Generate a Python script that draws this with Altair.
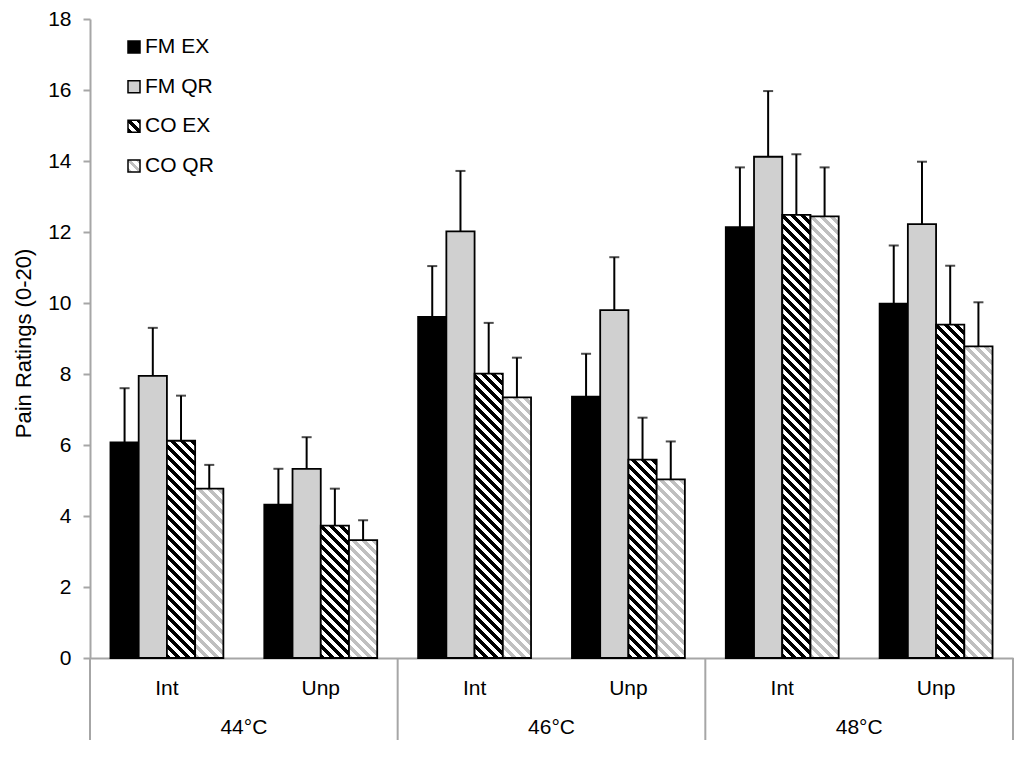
import altair as alt

# ---------------- data ----------------
temps = ["44°C", "46°C", "48°C"]
conds = ["Int", "Unp"]
series = ["FM EX", "FM QR", "CO EX", "CO QR"]

# mean pain ratings, order: 44 Int, 44 Unp, 46 Int, 46 Unp, 48 Int, 48 Unp
fm_ex = [6.07, 4.32, 9.61, 7.36, 12.14, 9.98]
fm_qr = [7.95, 5.33, 12.02, 9.80, 14.12, 12.22]
co_ex = [6.12, 3.73, 8.01, 5.59, 12.48, 9.39]
co_qr = [4.77, 3.32, 7.34, 5.03, 12.44, 8.78]

# upper error (SE)
fm_ex_err = [1.53, 1.01, 1.43, 1.21, 1.68, 1.64]
fm_qr_err = [1.35, 0.89, 1.70, 1.49, 1.85, 1.76]
co_ex_err = [1.27, 1.04, 1.43, 1.18, 1.71, 1.66]
co_qr_err = [0.67, 0.56, 1.12, 1.07, 1.38, 1.24]

y_ticks = [0, 2, 4, 6, 8, 10, 12, 14, 16, 18]

# ---------------- layout / style ----------------
TOP = 11
W, H = 923, 639
YMAX = 18
PAD_IN, PAD_OUT = 0.266, 0.133
FONT = "Liberation Sans"
AXIS_GRAY = "#a6a6a6"

step = W / (len(temps) * len(conds) - PAD_IN + 2 * PAD_OUT)
BAR_W = step * (1 - PAD_IN) / len(series)

styles = {
    "FM EX": ("solid", "#000000", None),
    "FM QR": ("solid", "#d0d0d0", None),
    "CO EX": ("stripe", "#000000", "#ffffff"),
    "CO QR": ("stripe", "#c0c0c0", "#ffffff"),
}


def stripes(w, h, c1, c2, period=10.0):
    """Diagonal (\\) stripes as a bbox linear gradient with hard stops."""
    w = max(w, 0.5)
    h = max(h, 0.5)
    s = (w + h) / (w * w + h * h)
    dt = period / (w + h)
    stops = []
    k = 0
    while k * dt < 1:
        a = k * dt
        m = min(1.0, a + dt / 2)
        b = min(1.0, a + dt)
        stops += [
            {"offset": round(a, 5), "color": c1},
            {"offset": round(m, 5), "color": c1},
            {"offset": round(m, 5), "color": c2},
            {"offset": round(b, 5), "color": c2},
        ]
        k += 1
    return {"gradient": "linear", "x1": 0, "y1": 1,
            "x2": s * w, "y2": 1 - s * h, "stops": stops}


def fill_for(name, w, h):
    kind, c1, c2 = styles[name]
    if kind == "solid":
        return c1
    return stripes(w, h, c1, c2)


means = {"FM EX": fm_ex, "FM QR": fm_qr, "CO EX": co_ex, "CO QR": co_qr}
errs = {"FM EX": fm_ex_err, "FM QR": fm_qr_err, "CO EX": co_ex_err, "CO QR": co_qr_err}

keys = [f"{t}|{c}" for t in temps for c in conds]
records = []
for i, key in enumerate(keys):
    for s_name in series:
        v = means[s_name][i]
        e = errs[s_name][i]
        records.append({
            "key": key,
            "series": s_name,
            "value": v,
            "hi": round(v + e, 3),
            "fill": fill_for(s_name, BAR_W, v * H / YMAX),
        })

bar_data = alt.Data(values=records)

x_enc = alt.X(
    "key:N", sort=keys,
    scale=alt.Scale(paddingInner=PAD_IN, paddingOuter=PAD_OUT),
    axis=alt.Axis(title=None, labelExpr="split(datum.label, '|')[1]",
                  ticks=False, tickSize=0, labelAngle=0, labelPadding=19,
                  labelFontSize=21, domainColor=AXIS_GRAY, domainWidth=2),
)
xo_enc = alt.XOffset("series:N", sort=series,
                     scale=alt.Scale(paddingInner=0, paddingOuter=0))
y_scale = alt.Scale(domain=[0, YMAX], nice=False, zero=True)

bars = alt.Chart(bar_data).mark_bar(stroke="black", strokeWidth=1.8).encode(
    x=x_enc,
    xOffset=xo_enc,
    y=alt.Y("value:Q", stack=None, scale=y_scale,
            axis=alt.Axis(values=y_ticks, title="Pain Ratings (0-20)", grid=False,
                          tickSize=7, labelPadding=12, labelFontSize=21,
                          titleFontSize=22, titleFontWeight="normal",
                          titlePadding=12, titleY=335 - TOP,
                          domainColor=AXIS_GRAY,
                          domainWidth=2, tickColor=AXIS_GRAY, tickWidth=2)),
    fill=alt.Fill("fill:N", scale=None),
)

err_lines = alt.Chart(bar_data).mark_rule(color="black", strokeWidth=2).encode(
    x=x_enc, xOffset=xo_enc,
    y=alt.Y("value:Q", scale=y_scale),
    y2="hi:Q",
)

err_caps = alt.Chart(bar_data).mark_tick(color="black", thickness=2, size=10).encode(
    x=x_enc, xOffset=xo_enc,
    y=alt.Y("hi:Q", scale=y_scale),
)

main = alt.layer(bars, err_lines, err_caps)

# group separators and temperature labels
sep_data = alt.Data(values=[{"pos": p} for p in range(len(temps) + 1)])
grp_scale = alt.Scale(domain=[0, len(temps)], nice=False, zero=True)
separators = alt.Chart(sep_data).mark_rule(color=AXIS_GRAY, strokeWidth=2).encode(
    x=alt.X("pos:Q", scale=grp_scale, axis=None),
    y=alt.value(H),
    y2=alt.value(H + 82),
)

temp_data = alt.Data(values=[{"temp": t, "mid": i + 0.5} for i, t in enumerate(temps)])
temp_labels = alt.Chart(temp_data).mark_text(
    font=FONT, fontSize=21, color="black", baseline="middle", align="center"
).encode(
    x=alt.X("mid:Q", scale=grp_scale, axis=None),
    y=alt.value(H + 70),
    text="temp:N",
)

# custom legend
leg_records = [{"series": s_name, "lfill": fill_for(s_name, 12, 12)} for s_name in series]
leg_data = alt.Data(values=leg_records)
leg_y = alt.Y("series:N", sort=series,
              scale=alt.Scale(domain=series, range=[47 - 8 - TOP, 166 - 8 - TOP], padding=0),
              axis=None)
leg_sq = alt.Chart(leg_data).mark_square(size=144, stroke="black", strokeWidth=1.5,
                                         opacity=1).encode(
    x=alt.value(44),
    y=leg_y,
    fill=alt.Fill("lfill:N", scale=None),
)
leg_txt = alt.Chart(leg_data).mark_text(
    font=FONT, fontSize=21, color="black", align="left", baseline="middle"
).encode(
    x=alt.value(55),
    y=leg_y,
    text="series:N",
)

chart = alt.layer(main, separators, temp_labels, leg_sq, leg_txt).resolve_scale(
    x="independent", y="independent"
).properties(
    width=W, height=H,
    autosize=alt.AutoSizeParams(type="none"),
    padding={"left": 82, "top": TOP, "right": 3, "bottom": 93},
).configure_view(stroke=None).configure_axis(
    labelFont=FONT, titleFont=FONT, labelColor="black", titleColor="black",
)

chart.save("out.html", embed_options={"renderer": "svg", "actions": False})
